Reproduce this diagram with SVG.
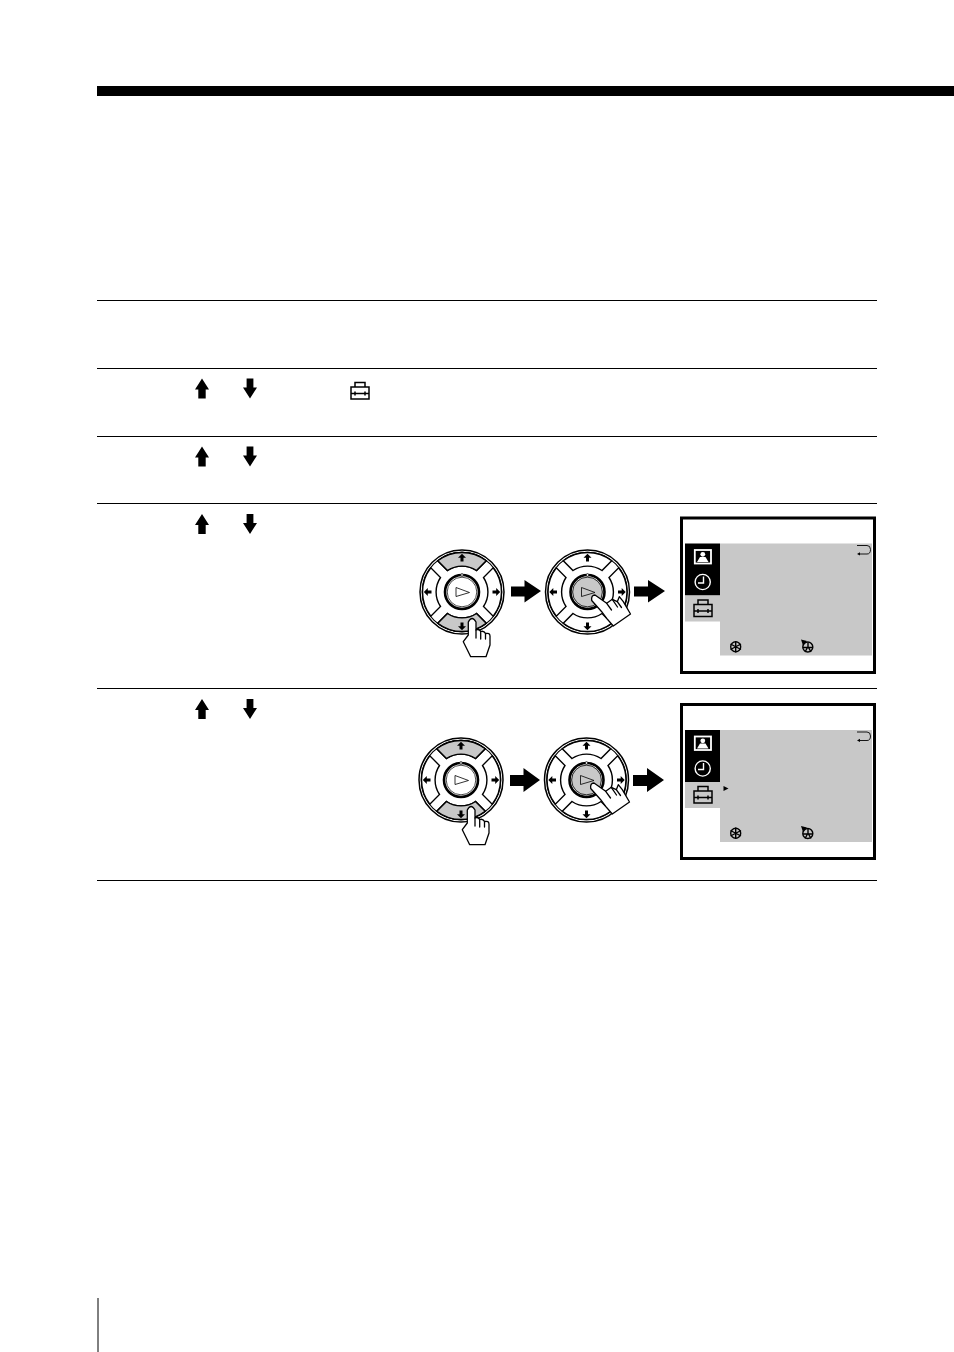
<svg xmlns="http://www.w3.org/2000/svg" width="954" height="1352" viewBox="0 0 954 1352">
<style>
.rule{stroke:#000;stroke-width:1;fill:none}
.seg{stroke:#000;stroke-width:1.4;fill:#fff}
.on{fill:#c8c8c8}
.ln{stroke:#000;fill:none}
.hand{fill:#fff;stroke:#000;stroke-width:1.3;stroke-linejoin:round;stroke-linecap:round}
</style>
<defs>
<path id="up" d="M0-10.500L7 0.500H3.700V9.500H-3.700V0.500H-7Z" fill="#000"/>
<path id="down" d="M0 9.500L7-1.500H3.400V-10.500H-3.400V-1.500H-7Z" fill="#000"/>
<g id="tool" class="ln" stroke-width="1.500">
<rect x="-9" y="-5" width="18" height="12"/>
<path d="M-5-5V-9.500H5V-5M-9 1.500H9M-5-0.500V3.500M5-0.500V3.500"/>
</g>
<path id="tiny" d="M0-4.200L4-0.200H1.500V3.500H-1.500V-0.200H-4Z" fill="#000"/>
<path id="seg" class="seg" d="M-24.200-31.200A39.500 39.500 0 0 1 24.200-31.200L14.500-21.500A26 26 0 0 0-14.500-21.500Z"/>
<path id="seg-top" class="seg on" d="M-24.200-31.200A39.500 39.500 0 0 1 24.200-31.200L14.500-21.500A26 26 0 0 0-14.500-21.500Z"/>
<g id="dial">
<circle r="42" fill="#fff" stroke="#000" stroke-width="1.500"/>
<circle r="39.800" fill="#fff" stroke="#000" stroke-width="1.100"/>
<use href="#seg"/>
<use href="#seg" transform="rotate(90)"/>
<use href="#seg" transform="rotate(180)"/>
<use href="#seg" transform="rotate(270)"/>
</g>
<g id="marks">
<use href="#tiny" y="-34"/>
<use href="#tiny" y="-34" transform="rotate(90)"/>
<use href="#tiny" y="-34" transform="rotate(180)"/>
<use href="#tiny" y="-34" transform="rotate(270)"/>
</g>
<g id="hub">
<circle r="17" fill="#fff" stroke="#000" stroke-width="2.600"/>
<circle r="14.800" fill="none" stroke="#000" stroke-width=".7"/>
<circle cy="-17" r="1.300" fill="#fff" stroke="#000" stroke-width=".7"/>
</g>
<path id="tri" d="M-6-4.500L7.500 0.500L-6 4.500Z" fill="none" stroke="#000" stroke-width=".8"/>
<g id="press-hand" class="hand">
<path d="M6.300 43V30Q10 23 14 30V38Q17 36.500 18.700 39.500Q22 38.500 23.500 41.500Q28 40.500 28 44V53L24 64.700H8.700L1.300 49.700Z"/>
<path d="M14 38V46M18.700 39.500V47M23.500 41.500V47"/>
</g>
<g id="push-hand" class="hand">
<path d="M7.500 3L19.200 11.300L24.800 7.300L29.800 9.700L31.800 4.700L35.800 9.700L43 22L25.800 34L19.200 26.300L14.200 19.700L4.200 8.500Q3.500 3 7.500 3Z"/>
<path d="M19.200 11.300L24 18M24.800 7.300L30 15M29.800 9.700L34 15.500"/>
</g>
<g id="panel-icons">
<rect x="685" y="0" width="35" height="52" fill="#000"/>
<rect x="685" y="52" width="35" height="26" fill="#c8c8c8"/>
<rect x="720" y="0" width="152" height="112" fill="#c8c8c8"/>
<rect x="694.800" y="6.500" width="16.200" height="13.500" fill="#000" stroke="#fff" stroke-width="1.800"/>
<circle cx="702.800" cy="10.800" r="2.400" fill="#fff"/>
<path d="M697 18.500L700 13.500H705.500L708.500 18.500Z" fill="#fff"/>
<circle cx="702.700" cy="38.500" r="7.600" fill="#000" stroke="#fff" stroke-width="1.400"/>
<path d="M703.500 33V39.500H698" fill="none" stroke="#fff" stroke-width="1.400"/>
<use href="#tool" x="703" y="66"/>
<path d="M857 2H867Q870.500 2 870.500 6Q870.500 10.500 867 10.500H859" fill="none" stroke="#000" stroke-width=".9"/>
<path d="M857 10.500L860 8.800V12Z" fill="#000"/>
<g fill="none" stroke="#000" stroke-width="1.400">
<circle cx="735.700" cy="103.300" r="5"/>
<path d="M735.700 97.500V109M730.500 100.500L741 106M730.500 106L741 100.500"/>
<circle cx="807.800" cy="103.500" r="5"/>
<path d="M802.800 104H813M805 108.500L807.500 104M811 108.500L808.500 104M808 99V104"/>
</g>
<path d="M801 96L807 97.500L803 102Z" fill="#000"/>
</g>
</defs>
<g id="page-rules">
<rect x="97" y="86" width="857" height="10" fill="#000"/>
<path class="rule" d="M97 300.500H877M97 368.500H877M97 436.500H877M97 503.500H877M97 688.500H877M97 880.500H877"/>
<path class="rule" d="M98 1298V1352"/>
</g>
<g id="step-arrows">
<use href="#up" x="202" y="389"/><use href="#down" x="250" y="389"/>
<use href="#up" x="202" y="457"/><use href="#down" x="250" y="457"/>
<use href="#up" x="202" y="524.500"/><use href="#down" x="250" y="524.500"/>
<use href="#up" x="202" y="709.500"/><use href="#down" x="250" y="709.500"/>
<use href="#tool" x="360" y="392"/>
</g>
<g id="dial-1a" transform="translate(462 592)">
<use href="#dial"/><use href="#seg-top"/><use href="#seg-top" transform="rotate(180)"/>
<use href="#marks"/><use href="#hub"/><use href="#tri"/>
<use href="#press-hand"/>
</g>
<g id="dial-1b" transform="translate(587.500 592)">
<use href="#dial"/><use href="#marks"/><use href="#hub"/>
<circle r="14.800" fill="#c8c8c8" stroke="#000" stroke-width=".7"/><use href="#tri"/>
<use href="#push-hand"/>
</g>
<g id="dial-2a" transform="translate(461 780)">
<use href="#dial"/><use href="#seg-top"/><use href="#seg-top" transform="rotate(180)"/>
<use href="#marks"/><use href="#hub"/><use href="#tri"/>
<use href="#press-hand"/>
</g>
<g id="dial-2b" transform="translate(586.500 780)">
<use href="#dial"/><use href="#marks"/><use href="#hub"/>
<circle r="14.800" fill="#c8c8c8" stroke="#000" stroke-width=".7"/><use href="#tri"/>
<use href="#push-hand"/>
</g>
<g id="connectors" fill="#000">
<path d="M511 586.500H524.500V580L541 591L524.500 602.500V596.500H511Z"/>
<path d="M634 586.500H648V580L665 591L648 602.500V596.500H634Z"/>
<path d="M510 775H523.500V768L540 780L523.500 792V786H510Z"/>
<path d="M633 775H647V768L664 780L647 792V786H633Z"/>
</g>
<g id="screen-1">
<rect x="681.500" y="518" width="193" height="154.500" fill="#fff" stroke="#000" stroke-width="3"/>
<use href="#panel-icons" y="543.500"/>
</g>
<g id="screen-2">
<rect x="681.500" y="704.500" width="193" height="154" fill="#fff" stroke="#000" stroke-width="3"/>
<use href="#panel-icons" y="730"/>
<path d="M723.500 786L728.500 788.500L723.500 791Z" fill="#000"/>
</g>
</svg>
